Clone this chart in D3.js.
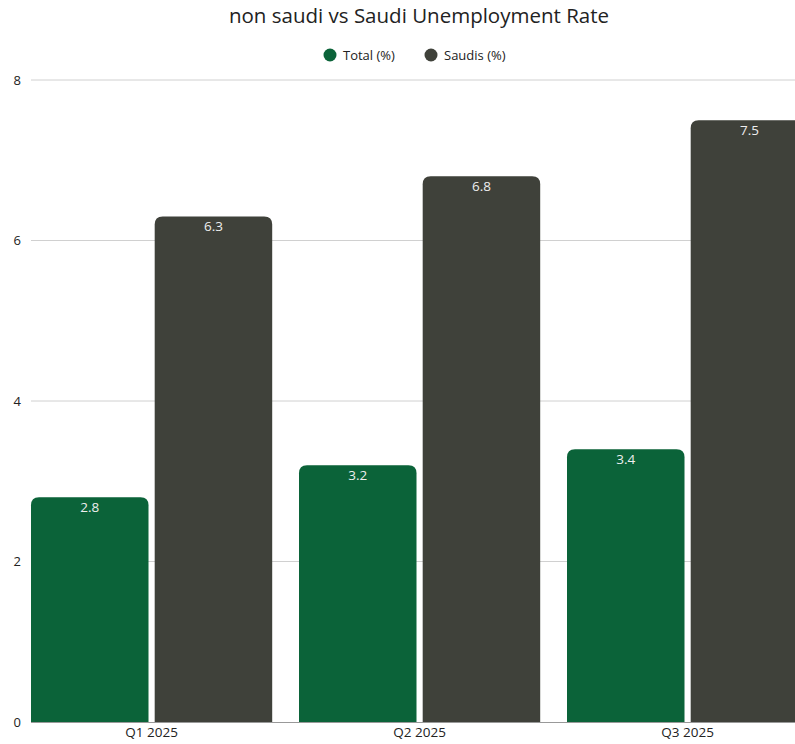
<!DOCTYPE html>
<html><head><meta charset="utf-8">
<script src="https://cdn.jsdelivr.net/npm/d3@7"></script>
<style>body{margin:0;background:#fff;overflow:hidden}svg{display:block;font-family:"Open Sans","Noto Sans",sans-serif}</style>
</head><body>
<svg id="c" width="795" height="744"></svg>
<script>
const categories = ["Q1 2025", "Q2 2025", "Q3 2025"];
const seriesNames = ["Total (%)", "Saudis (%)"];
const totalValues = [2.8, 3.2, 3.4];
const saudiValues = [6.3, 6.8, 7.5];
const yTicks = [0, 2, 4, 6, 8];
const colors = ["#0b6339", "#3f413a"];

const svg = d3.select("#c");
const y = d3.scaleLinear().domain([0, 8]).range([722, 80]);
const x0 = d3.scaleBand().domain(categories).range([17.6, 821.6]).paddingInner(0.1).paddingOuter(0.05);
const x1 = d3.scaleBand().domain(seriesNames).range([0, x0.bandwidth()]).paddingInner(0.05);

// grid
svg.append("g").selectAll("line").data(yTicks.filter(t => t > 0)).join("line")
  .attr("x1", 31).attr("x2", 795).attr("y1", d => y(d)).attr("y2", d => y(d))
  .attr("stroke", "#d0d0d0").attr("stroke-width", 1);

const yAxis = svg.append("g").attr("transform", "translate(31,0)")
  .call(d3.axisLeft(y).tickValues(yTicks).tickSize(0).tickPadding(10).tickFormat(d3.format("d")));
yAxis.select(".domain").remove();
yAxis.selectAll("text").attr("font-size", 13).attr("fill", "#222").attr("font-family", "'Open Sans','Noto Sans',sans-serif");

const rows = categories.map((c, i) => ({cat: c, vals: [totalValues[i], saudiValues[i]]}));
const r = 8;
function topRounded(x, yTop, w, yBot) {
  const rr = Math.min(r, w / 2, yBot - yTop);
  return `M${x},${yBot}V${yTop + rr}Q${x},${yTop} ${x + rr},${yTop}H${x + w - rr}Q${x + w},${yTop} ${x + w},${yTop + rr}V${yBot}Z`;
}
const groups = svg.append("g").selectAll("g").data(rows).join("g")
  .attr("transform", d => `translate(${x0(d.cat)},0)`);
groups.selectAll("path").data(d => d.vals.map((v, j) => ({s: seriesNames[j], v, j}))).join("path")
  .attr("d", d => topRounded(x1(d.s), y(d.v), x1.bandwidth(), y(0)))
  .attr("fill", d => colors[d.j]);
groups.selectAll("text").data(d => d.vals.map((v, j) => ({s: seriesNames[j], v, j}))).join("text")
  .attr("x", d => x1(d.s) + x1.bandwidth() / 2).attr("y", d => y(d.v) + 14.5)
  .attr("text-anchor", "middle").attr("font-size", 13.5).attr("fill", "#eeeeee")
  .text(d => d3.format(".1f")(d.v));

// baseline
svg.append("line").attr("x1", 31).attr("x2", 795).attr("y1", 722.5).attr("y2", 722.5)
  .attr("stroke", "#999").attr("stroke-width", 1);

const xAxis = svg.append("g").attr("transform", "translate(0,722)")
  .call(d3.axisBottom(x0).tickSize(0).tickPadding(5));
xAxis.select(".domain").remove();
xAxis.selectAll("text").attr("font-size", 13.5).attr("fill", "#222").attr("font-family", "'Open Sans','Noto Sans',sans-serif");

svg.append("text").attr("x", 419).attr("y", 23).attr("text-anchor", "middle")
  .attr("font-size", 20.5).attr("fill", "#222").text("non saudi vs Saudi Unemployment Rate");

const legendX = [330, 431];
const lg = svg.append("g").selectAll("g").data(seriesNames).join("g")
  .attr("transform", (d, i) => `translate(${legendX[i]},55)`);
lg.append("circle").attr("r", 6.5).attr("fill", (d, i) => colors[i]);
lg.append("text").attr("x", 13).attr("y", 4.5).attr("font-size", 13).attr("fill", "#222").text(d => d);
</script>
</body></html>
